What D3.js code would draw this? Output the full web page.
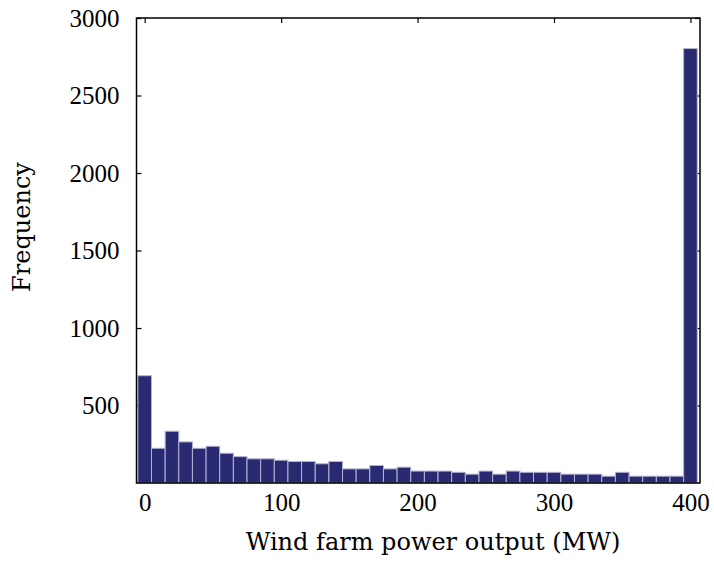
<!DOCTYPE html>
<html lang="en">
<head>
    <meta charset="UTF-8">
    <title>Wind farm power output histogram</title>
    <script src="https://cdn.jsdelivr.net/npm/d3@7"></script>
    <style type="text/css">
        body { margin: 0; background: #fff; }
        .axis path { display: none; }
        .axis line { stroke: black; stroke-width: 1.2; }
        .axis text {
            font-family: "Liberation Serif", "Times New Roman", serif;
            font-size: 25px;
            fill: black;
        }
        .title {
            font-family: "DejaVu Serif", serif;
            font-size: 24px;
            fill: black;
        }
    </style>
</head>
<body>
<script>
    // bin centres (MW), bin width 10
    const binCenters = [0, 10, 20, 30, 40, 50, 60, 70, 80, 90,
                        100, 110, 120, 130, 140, 150, 160, 170, 180, 190,
                        200, 210, 220, 230, 240, 250, 260, 270, 280, 290,
                        300, 310, 320, 330, 340, 350, 360, 370, 380, 390, 400];
    const frequency = [692, 224, 334, 265, 224, 237, 192, 170, 156, 156,
                       147, 139, 139, 124, 139, 91, 91, 113, 91, 102,
                       77, 77, 77, 69, 57, 77, 57, 77, 69, 69,
                       69, 57, 57, 57, 44, 69, 44, 44, 44, 44, 2803];
    const xTicks = [0, 100, 200, 300, 400];
    const yTicks = [500, 1000, 1500, 2000, 2500, 3000];
    const binWidth = 10;

    const data = binCenters.map((c, i) => ({ center: c, count: frequency[i] }));

    let w = 714, h = 564;
    let padLeft = 136.5, padRight = 700, padTop = 18, padBottom = 483;

    let svg = d3.select("body").append("svg")
        .attr("width", w)
        .attr("height", h);

    let xScale = d3.scaleLinear().domain([-6, 407]).range([padLeft, padRight]);
    let yScale = d3.scaleLinear().domain([0, 3000]).range([padBottom, padTop]);

    // ticks go inward on all four sides
    svg.append("g")
        .attr("class", "axis")
        .attr("transform", "translate(0," + padBottom + ")")
        .call(d3.axisBottom(xScale).tickValues(xTicks).tickFormat(d3.format("d"))
            .tickSizeInner(-5).tickSizeOuter(0).tickPadding(10));

    svg.append("g")
        .attr("class", "axis")
        .attr("transform", "translate(0," + padTop + ")")
        .call(d3.axisTop(xScale).tickValues(xTicks).tickSizeInner(-5).tickSizeOuter(0).tickFormat(""));

    svg.append("g")
        .attr("class", "axis")
        .attr("transform", "translate(" + padLeft + ",0)")
        .call(d3.axisLeft(yScale).tickValues(yTicks).tickFormat(d3.format("d"))
            .tickSizeInner(-5).tickSizeOuter(0).tickPadding(17));

    svg.append("g")
        .attr("class", "axis")
        .attr("transform", "translate(" + padRight + ",0)")
        .call(d3.axisRight(yScale).tickValues(yTicks).tickSizeInner(-5).tickSizeOuter(0).tickFormat(""));

    svg.selectAll("rect.bar")
        .data(data)
        .enter()
        .append("rect")
        .attr("class", "bar")
        .attr("x", d => xScale(d.center - binWidth / 2))
        .attr("y", d => yScale(d.count))
        .attr("width", d => xScale(d.center + binWidth / 2) - xScale(d.center - binWidth / 2))
        .attr("height", d => yScale(0) - yScale(d.count))
        .attr("fill", "#2a2a72")
        .attr("stroke", "#b4b4d4")
        .attr("stroke-width", 1);

    // frame
    svg.append("rect")
        .attr("x", padLeft)
        .attr("y", padTop)
        .attr("width", padRight - padLeft)
        .attr("height", padBottom - padTop)
        .attr("fill", "none")
        .attr("stroke", "black")
        .attr("stroke-width", 1.5);

    svg.append("text")
        .attr("class", "title")
        .attr("x", 433)
        .attr("y", 550)
        .attr("text-anchor", "middle")
        .text("Wind farm power output (MW)");

    svg.append("text")
        .attr("class", "title")
        .attr("transform", "translate(30,227) rotate(-90)")
        .attr("text-anchor", "middle")
        .text("Frequency");
</script>
</body>
</html>
